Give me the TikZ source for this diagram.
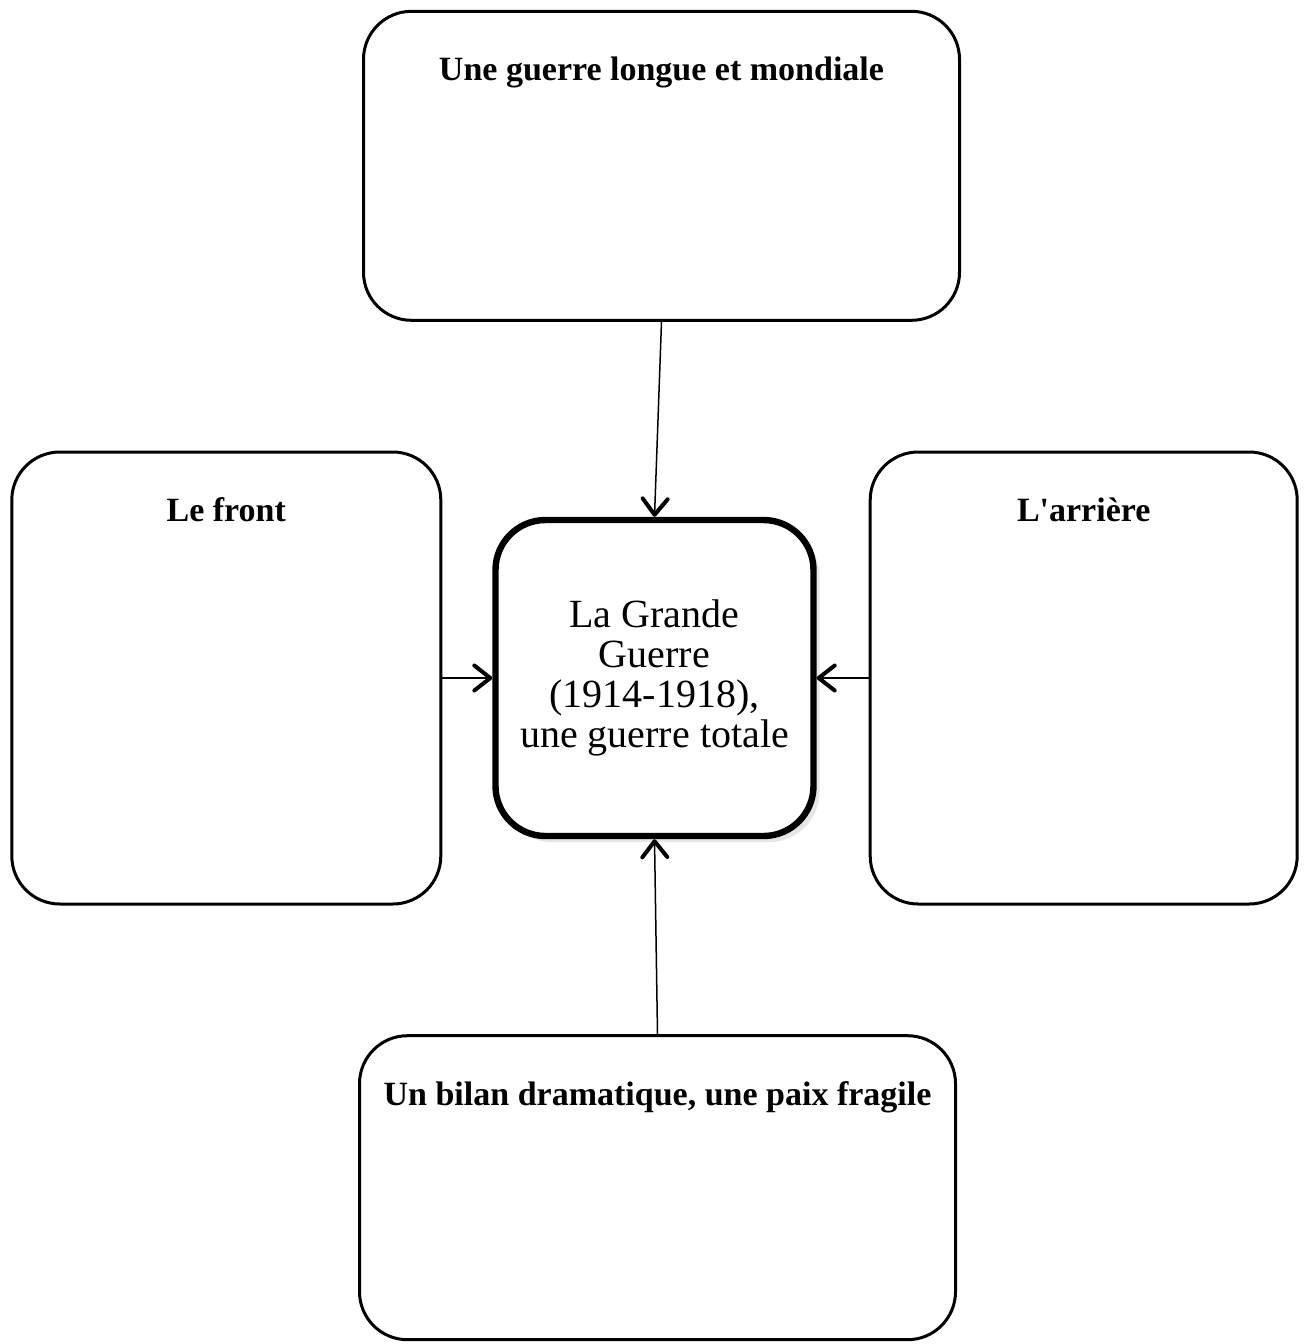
\documentclass[tikz,border=0pt]{standalone}
\usepackage{fontspec}
\setmainfont{Liberation Serif}
\usetikzlibrary{positioning,shadows,arrows.meta}

\begin{document}
\begin{tikzpicture}[x=0.5pt,y=-0.5pt,
box/.style={
rectangle,
draw,
line width=1.5pt,
rounded corners=24pt,
minimum width=298pt
},
title/.style={anchor=base,yshift=-35.5pt,font=\fontsize{17}{20}\selectfont\bfseries},
to/.style={-{Straight Barb[length=8pt,width=12.5pt,line width=2pt,round]},line width=0.75pt},
]
\useasboundingbox (0,0) rectangle (1303,1344);

\node (guerre) [rectangle,draw,line width=3.2pt,rounded corners=25pt,minimum width=159pt,minimum height=158pt,fill=white,
drop shadow={opacity=0.2,shadow xshift=3pt,shadow yshift=-3pt},align=center,font=\fontsize{20}{20}\selectfont] at (654.5,678) {La Grande\\Guerre\\(1914-1918),\\une guerre totale};
\node (mondiale) [box,minimum height=154.5pt,above=97.5pt of guerre,xshift=3.5pt,label={[title]north:Une guerre longue et mondiale}] {};
\node (front) [box,minimum width=214.5pt,minimum height=226pt,left=25pt of guerre,label={[title]north:Le front}] {};
\node (arriere) [box,minimum width=213.5pt,minimum height=226pt,right=26pt of guerre,label={[title]north:L\textquotesingle arrière}] {};
\node (bilan) [box,minimum height=152pt,below=97.5pt of guerre,xshift=1.5pt,label={[title]north:Un bilan dramatique, une paix fragile}] {};
\draw[to] (mondiale.south) -- (guerre.north);
\draw[to] (front.east) -- (guerre.west);
\draw[to] (arriere.west) -- (guerre.east);
\draw[to] (bilan.north) -- (guerre.south);
\end{tikzpicture}
\end{document}
